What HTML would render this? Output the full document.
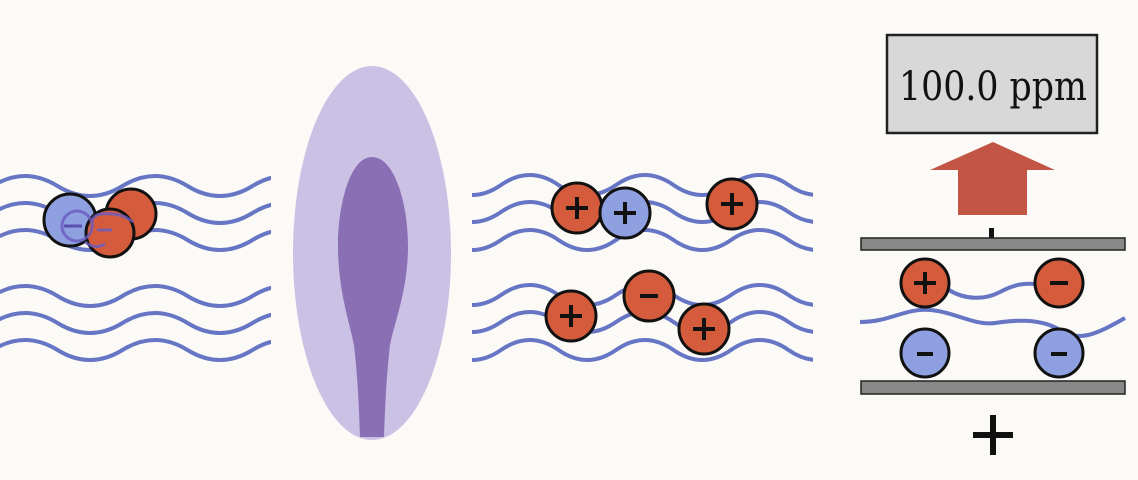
<!DOCTYPE html>
<html><head><meta charset="utf-8"><style>
html,body{margin:0;padding:0;background:#fcfaf7;}
svg{display:block}
</style></head><body>
<svg width="1138" height="480" viewBox="0 0 1138 480" xmlns="http://www.w3.org/2000/svg">
<defs>
<clipPath id="cl"><rect x="0" y="0" width="271" height="480"/></clipPath>
<clipPath id="cm"><rect x="472" y="0" width="341" height="480"/></clipPath>
</defs>
<rect width="1138" height="480" fill="#fcfaf7"/>
<g fill="none" stroke="#6675c4" stroke-width="4" clip-path="url(#cl)">
<path d="M-72.5,186 q32.5,20 65,0 t65,0 t65,0 t65,0 t65,0 t65,0"/>
<path d="M-72.5,213 q32.5,20 65,0 t65,0 t65,0 t65,0 t65,0 t65,0"/>
<path d="M-72.5,240 q32.5,20 65,0 t65,0 t65,0 t65,0 t65,0 t65,0"/>
<path d="M-72.5,296 q32.5,20 65,0 t65,0 t65,0 t65,0 t65,0 t65,0"/>
<path d="M-72.5,323 q32.5,20 65,0 t65,0 t65,0 t65,0 t65,0 t65,0"/>
<path d="M-72.5,350 q32.5,20 65,0 t65,0 t65,0 t65,0 t65,0 t65,0"/>
</g>
<g fill="none" stroke="#6675c4" stroke-width="4" clip-path="url(#cm)">
<path d="M443.5,185 q28.75,20 57.5,0 t57.5,0 t57.5,0 t57.5,0 t57.5,0 t57.5,0 t57.5,0"/>
<path d="M443.5,212 q28.75,20 57.5,0 t57.5,0 t57.5,0 t57.5,0 t57.5,0 t57.5,0 t57.5,0"/>
<path d="M443.5,240 q28.75,20 57.5,0 t57.5,0 t57.5,0 t57.5,0 t57.5,0 t57.5,0 t57.5,0"/>
<path d="M443.5,295 q28.75,20 57.5,0 t57.5,0 t57.5,0 t57.5,0 t57.5,0 t57.5,0 t57.5,0"/>
<path d="M443.5,322 q28.75,20 57.5,0 t57.5,0 t57.5,0 t57.5,0 t57.5,0 t57.5,0 t57.5,0"/>
<path d="M443.5,350 q28.75,20 57.5,0 t57.5,0 t57.5,0 t57.5,0 t57.5,0 t57.5,0 t57.5,0"/>
</g>
<g fill="none" stroke="#6675c4" stroke-width="4">
<path d="M949,290 C965,300 985,300 1000,292 S1025,283 1035,284"/>
<path d="M860,322 C890,322 905,308 930,310 S975,326 995,323 S1040,318 1060,330 S1095,335 1125,318"/>
</g>
<ellipse cx="372" cy="253" rx="79" ry="187" fill="#cbc1e5"/>
<path d="M372,157 C395,157 408,205 408,245 C408,290 395,320 390,345 C386,380 385,410 384,437 L360,437 C359,410 358,380 354,345 C349,320 338,290 338,245 C338,205 350,157 372,157 Z" fill="#8a6fb5"/>
<g stroke="#111" stroke-width="3">
<circle cx="70" cy="220" r="26" fill="#8fa0e0"/>
<circle cx="131" cy="214" r="25" fill="#d45c3c"/>
<circle cx="110" cy="233" r="24" fill="#d45c3c"/>
</g>
<g fill="none" stroke="#6a5cc0" stroke-width="3" opacity="0.8">
<circle cx="77" cy="226" r="15"/>
<path d="M85,242 q10,8 20,2"/>
<path d="M93,228 q-4,-12 8,-14 q20,-2 32,8"/>
<path d="M97,230 l15,0"/>
</g>
<line x1="64" y1="226" x2="82" y2="226" stroke="#5a4fb0" stroke-width="3"/>
<g stroke="#111" stroke-width="3">
<circle cx="577" cy="208" r="25" fill="#d45c3c"/>
<circle cx="625" cy="213" r="25" fill="#8fa0e0"/>
<circle cx="732" cy="204" r="25" fill="#d45c3c"/>
<circle cx="571" cy="316" r="25" fill="#d45c3c"/>
<circle cx="649" cy="296" r="25" fill="#d45c3c"/>
<circle cx="704" cy="329" r="25" fill="#d45c3c"/>
<circle cx="925" cy="283" r="24" fill="#d45c3c"/>
<circle cx="1059" cy="283" r="24" fill="#d45c3c"/>
<circle cx="925" cy="353" r="24" fill="#8fa0e0"/>
<circle cx="1059" cy="353" r="24" fill="#8fa0e0"/>
</g>
<g stroke="#111" stroke-width="4">
<path d="M566,208 h22 M577,197 v22"/>
<path d="M614,213 h22 M625,202 v22"/>
<path d="M721,204 h22 M732,193 v22"/>
<path d="M560,316 h22 M571,305 v22"/>
<path d="M640,296 h18"/>
<path d="M693,329 h22 M704,318 v22"/>
<path d="M914,283 h22 M925,272 v22"/>
<path d="M1050,283 h18"/>
<path d="M917,354 h16"/>
<path d="M1051,354 h16"/>
</g>
<rect x="887" y="35" width="210" height="98" fill="#d8d8d8" stroke="#222" stroke-width="2.5"/>
<text x="993" y="100" text-anchor="middle" font-family="DejaVu Serif, serif" font-size="40" fill="#111" textLength="188" lengthAdjust="spacingAndGlyphs">100.0 ppm</text>
<path d="M993,142 L1055,170 L1027,170 L1027,215 L958,215 L958,170 L930,170 Z" fill="#c25543"/>
<rect x="989" y="228" width="5" height="10" fill="#111"/>
<rect x="861" y="238" width="264" height="12" fill="#888" stroke="#222" stroke-width="1.5"/>
<rect x="861" y="381" width="264" height="13" fill="#888" stroke="#222" stroke-width="1.5"/>
<path d="M973,435 h40 M993,415 v40" stroke="#111" stroke-width="6"/>
</svg>
</body></html>
